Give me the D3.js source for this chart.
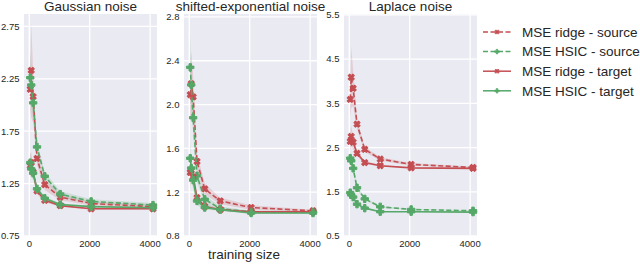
<!DOCTYPE html>
<html>
<meta charset="utf-8">
<head>
  <script src="https://d3js.org/d3.v7.min.js"></script>
  <style>
    body { margin: 0; background: #fff; }
    text { font-family: "Liberation Sans", Arial, sans-serif; fill: #262626; }
  </style>
</head>
<body>
<svg id="chart" width="640" height="264"></svg>
<script>
// training sizes (x)
var sizes = [32, 64, 128, 256, 512, 1024, 2048, 4096];
var xTicks = [0, 2000, 4000];

var titles = ["Gaussian noise", "shifted-exponential noise", "Laplace noise"];
var yTicksGauss = [0.75, 1.25, 1.75, 2.25, 2.75];
var yTicksShift = [0.8, 1.2, 1.6, 2.0, 2.4, 2.8];
var yTicksLaplace = [0.5, 1.5, 2.5, 3.5, 4.5, 5.5];

var legendLabels = ["MSE ridge - source", "MSE HSIC - source", "MSE ridge - target", "MSE HSIC - target"];

// Gaussian noise
var gaussRidgeSrc = [2.15, 2.33, 2.08, 1.49, 1.24, 1.12, 1.06, 1.03];
var gaussHsicSrc  = [2.26, 2.19, 2.02, 1.60, 1.32, 1.15, 1.08, 1.045];
var gaussRidgeTgt = [1.42, 1.45, 1.36, 1.18, 1.09, 1.04, 1.01, 1.01];
var gaussHsicTgt  = [1.45, 1.39, 1.35, 1.20, 1.11, 1.05, 1.03, 1.02];
var gaussRidgeSrcErr = [0.2, 0.45, 0.25, 0.06, 0.05, 0.03, 0.02, 0.02];
var gaussHsicSrcErr  = [0.25, 0.2, 0.15, 0.05, 0.04, 0.03, 0.02, 0.02];
var gaussRidgeTgtErr = [0.12, 0.1, 0.06, 0.03, 0.02, 0.01, 0.01, 0.01];
var gaussHsicTgtErr  = [0.1, 0.08, 0.06, 0.03, 0.02, 0.01, 0.01, 0.01];

// shifted-exponential noise
var shiftRidgeSrc = [2.09, 2.19, 2.07, 1.48, 1.23, 1.12, 1.06, 1.03];
var shiftHsicSrc  = [2.34, 2.18, 1.88, 1.35, 1.135, 1.05, 1.02, 1.02];
var shiftRidgeTgt = [1.38, 1.40, 1.34, 1.15, 1.07, 1.04, 1.02, 1.02];
var shiftHsicTgt  = [1.51, 1.42, 1.31, 1.12, 1.06, 1.04, 1.01, 1.01];
var shiftRidgeSrcErr = [0.25, 0.3, 0.2, 0.07, 0.05, 0.03, 0.02, 0.01];
var shiftHsicSrcErr  = [0.3, 0.2, 0.15, 0.06, 0.04, 0.02, 0.01, 0.01];
var shiftRidgeTgtErr = [0.15, 0.1, 0.08, 0.04, 0.02, 0.01, 0.01, 0.01];
var shiftHsicTgtErr  = [0.15, 0.1, 0.08, 0.04, 0.02, 0.01, 0.01, 0.01];

// Laplace noise
var lapRidgeSrc = [3.59, 4.09, 3.84, 3.03, 2.46, 2.24, 2.12, 2.05];
var lapHsicSrc  = [2.26, 2.20, 2.03, 1.59, 1.34, 1.16, 1.10, 1.07];
var lapRidgeTgt = [2.64, 2.75, 2.62, 2.37, 2.16, 2.09, 2.04, 2.03];
var lapHsicTgt  = [1.48, 1.43, 1.38, 1.22, 1.13, 1.05, 1.05, 1.04];
var lapRidgeSrcErr = [0.4, 0.7, 0.4, 0.12, 0.06, 0.04, 0.03, 0.02];
var lapHsicSrcErr  = [0.15, 0.12, 0.1, 0.05, 0.03, 0.02, 0.01, 0.01];
var lapRidgeTgtErr = [0.2, 0.25, 0.15, 0.06, 0.03, 0.02, 0.01, 0.01];
var lapHsicTgtErr  = [0.08, 0.06, 0.05, 0.03, 0.02, 0.01, 0.01, 0.01];

var red = "#C44E52", green = "#55A868";
var styles = [
  {color: red,   dash: "5,2.5", marker: "x"},
  {color: green, dash: "5,2.5", marker: "p"},
  {color: red,   dash: null,    marker: "x"},
  {color: green, dash: null,    marker: "p"}
];

var panels = [
  {title: titles[0], ticks: yTicksGauss, fmt: d3.format(".2f"), ymax: 2.868,
   series: [gaussRidgeSrc, gaussHsicSrc, gaussRidgeTgt, gaussHsicTgt],
   errs: [gaussRidgeSrcErr, gaussHsicSrcErr, gaussRidgeTgtErr, gaussHsicTgtErr]},
  {title: titles[1], ticks: yTicksShift, fmt: d3.format(".1f"), ymax: 2.827,
   series: [shiftRidgeSrc, shiftHsicSrc, shiftRidgeTgt, shiftHsicTgt],
   errs: [shiftRidgeSrcErr, shiftHsicSrcErr, shiftRidgeTgtErr, shiftHsicTgtErr]},
  {title: titles[2], ticks: yTicksLaplace, fmt: d3.format(".1f"), ymax: 5.52,
   series: [lapRidgeSrc, lapHsicSrc, lapRidgeTgt, lapHsicTgt],
   errs: [lapRidgeSrcErr, lapHsicSrcErr, lapRidgeTgtErr, lapHsicTgtErr]}
];

var svg = d3.select("#chart");
var plotTop = 14, plotBottom = 236, pw = 133;
var lefts = [24, 184, 344];

function markerPath(size) {
  return d3.symbol().type(d3.symbolCross).size(size)();
}

panels.forEach(function(p, i) {
  var g = svg.append("g").attr("transform", "translate(" + lefts[i] + ",0)");
  var x = d3.scaleLinear().domain([-175, 4228]).range([0, pw]);
  var y = d3.scaleLinear().domain([p.ticks[0], p.ymax]).range([plotBottom, plotTop]);

  g.append("rect").attr("x", 0).attr("y", plotTop)
    .attr("width", pw).attr("height", plotBottom - plotTop).attr("fill", "#EAEAF2");

  g.selectAll(".vgrid").data(xTicks).enter().append("line")
    .attr("x1", d => x(d)).attr("x2", d => x(d))
    .attr("y1", plotTop).attr("y2", plotBottom)
    .attr("stroke", "#fff").attr("stroke-width", 1.3);
  g.selectAll(".hgrid").data(p.ticks).enter().append("line")
    .attr("x1", 0).attr("x2", pw)
    .attr("y1", d => y(d)).attr("y2", d => y(d))
    .attr("stroke", "#fff").attr("stroke-width", 1.3);

  // tick labels
  g.selectAll(".xt").data(xTicks).enter().append("text")
    .attr("x", d => x(d)).attr("y", 246.5)
    .attr("text-anchor", "middle").style("font-size", "9.5px")
    .text(d => d);
  g.selectAll(".yt").data(p.ticks).enter().append("text")
    .attr("x", -4.5).attr("y", d => y(d)).attr("dy", "0.35em")
    .attr("text-anchor", "end").style("font-size", "9.5px")
    .text(d => p.fmt(d));

  g.append("text").attr("x", pw / 2).attr("y", 10.5)
    .attr("text-anchor", "middle").style("font-size", "13.5px")
    .text(p.title);

  var plot = g.append("g");
  // confidence bands
  p.series.forEach(function(s, k) {
    var area = d3.area()
      .x((d, j) => x(sizes[j]))
      .y0((d, j) => y(d - p.errs[k][j]))
      .y1((d, j) => y(d + p.errs[k][j]));
    plot.append("path").datum(s).attr("d", area)
      .attr("fill", styles[k].color).attr("fill-opacity", 0.18);
  });
  p.series.forEach(function(s, k) {
    var line = d3.line().x((d, j) => x(sizes[j])).y(d => y(d));
    plot.append("path").datum(s).attr("d", line)
      .attr("fill", "none").attr("stroke", styles[k].color)
      .attr("stroke-width", 1.6)
      .attr("stroke-dasharray", styles[k].dash);
    plot.selectAll(null).data(s).enter().append("path")
      .attr("d", markerPath(styles[k].marker == "x" ? 24 : 30))
      .attr("transform", (d, j) => "translate(" + x(sizes[j]) + "," + y(d) + ")" +
        (styles[k].marker == "x" ? " rotate(45)" : ""))
      .attr("fill", styles[k].color)
      .attr("stroke", styles[k].color).attr("stroke-width", 1)
      .attr("stroke-linejoin", "round");
  });
});

// x label
svg.append("text").attr("x", 244).attr("y", 259)
  .attr("text-anchor", "middle").style("font-size", "13.5px")
  .text("training size");

// legend
var leg = svg.append("g").attr("transform", "translate(483,32)");
legendLabels.forEach(function(lab, k) {
  var row = leg.append("g").attr("transform", "translate(0," + (k * 19.6) + ")");
  row.append("line").attr("x1", 0).attr("x2", 28).attr("y1", 0).attr("y2", 0)
    .attr("stroke", styles[k].color).attr("stroke-width", 1.5)
    .attr("stroke-dasharray", styles[k].dash);
  row.append("path")
    .attr("d", markerPath(12))
    .attr("transform", "translate(14,0)" + (styles[k].marker == "x" ? " rotate(45)" : ""))
    .attr("fill", styles[k].color)
    .attr("stroke", styles[k].color).attr("stroke-width", 0.6);
  row.append("text").attr("x", 39).attr("y", 0).attr("dy", "0.35em")
    .style("font-size", "13.5px").text(lab);
});
</script>
</body>
</html>
